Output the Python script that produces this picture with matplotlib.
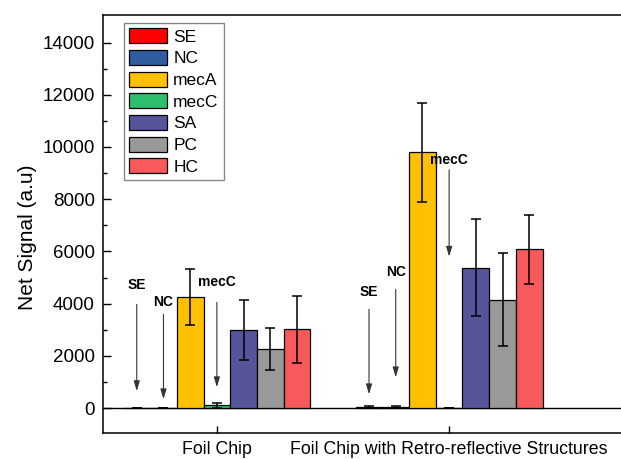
import numpy as np
import matplotlib
matplotlib.use("Agg")
import matplotlib.pyplot as plt

plt.rcParams['font.family'] = ['Liberation Sans', 'DejaVu Sans']

## Data
groups = ["Foil Chip", "Foil Chip with Retro-reflective Structures"]
series = ["SE", "NC", "mecA", "mecC", "SA", "PC", "HC"]
colors = ["#FF0000", "#2F5DA0", "#FFC000", "#2EBF6E", "#56559C", "#999999", "#F85A5C"]

means = {
    "SE":   [20, 40],
    "NC":   [20, 40],
    "mecA": [4250, 9800],
    "mecC": [100, 0],
    "SA":   [3000, 5380],
    "PC":   [2250, 4150],
    "HC":   [3020, 6080],
}
errs = {
    "SE":   [0, 20],
    "NC":   [0, 20],
    "mecA": [1080, 1900],
    "mecC": [90, 0],
    "SA":   [1150, 1850],
    "PC":   [800, 1770],
    "HC":   [1290, 1310],
}

# annotation arrows: (group, series, text y, arrow start y, arrow end y)
notes = [
    (0, "SE", 4730, 3970, 650),
    (0, "NC", 4050, 3590, 340),
    (0, "mecC", 4810, 4050, 800),
    (1, "SE", 4430, 3780, 530),
    (1, "NC", 5230, 4540, 1180),
    (1, "mecC", 9500, 9120, 5800),
]

fig = plt.figure(figsize=(6.21, 4.59), dpi=100)
ax = fig.add_axes([0.166, 0.057, 0.834, 0.910])

x = np.arange(1, len(groups) + 1)
width = 0.115
for i, s in enumerate(series):
    pos = x + (i - 3) * width
    ax.bar(pos, means[s], width, color=colors[i], edgecolor="black", linewidth=0.9,
           label=s, zorder=2)
    ax.errorbar(pos, means[s], yerr=errs[s], fmt="none", ecolor="black",
                elinewidth=1.1, capsize=3.5, capthick=1.1, zorder=3)

for g, s, ty, y0, y1 in notes:
    px = x[g] + (series.index(s) - 3) * width
    ax.text(px, ty, s, ha="center", va="center", fontsize=10, fontweight="bold")
    ax.annotate("", xy=(px, y1), xytext=(px, y0),
                arrowprops=dict(arrowstyle="-|>,head_width=0.18,head_length=0.6",
                                color="#333333", lw=0.8,
                                mutation_scale=10, shrinkA=0, shrinkB=0))

ax.axhline(0, color="black", lw=1, zorder=1)
ax.set_xlim(0.51, 2.74)
ax.set_ylim(-950, 15050)
ax.set_xticks(x)
ax.set_xticklabels(groups, fontsize=12.8)
ax.set_yticks(np.arange(0, 14001, 2000))
ax.set_yticks(np.arange(1000, 14001, 2000), minor=True)
ax.tick_params(axis="y", direction="in", length=6, width=1, labelsize=13.5, pad=6)
ax.tick_params(axis="y", which="minor", direction="in", length=3, width=1)
ax.tick_params(axis="x", direction="in", length=5, width=1, pad=6)
ax.spines["right"].set_visible(False)
for sp in ["left", "top", "bottom"]:
    ax.spines[sp].set_linewidth(1.1)
ax.set_ylabel("Net Signal (a.u)", fontsize=15)
ax.yaxis.set_label_coords(-0.127, 0.469)

ax.legend(loc="upper left", bbox_to_anchor=(0.04, 0.981), borderaxespad=0,
          fontsize=12.5, handlelength=2.2, handleheight=0.95, labelspacing=0.3,
          handletextpad=0.35, borderpad=0.3, fancybox=False, edgecolor="#888888",
          framealpha=1)

fig.savefig("out.png", dpi=100)
